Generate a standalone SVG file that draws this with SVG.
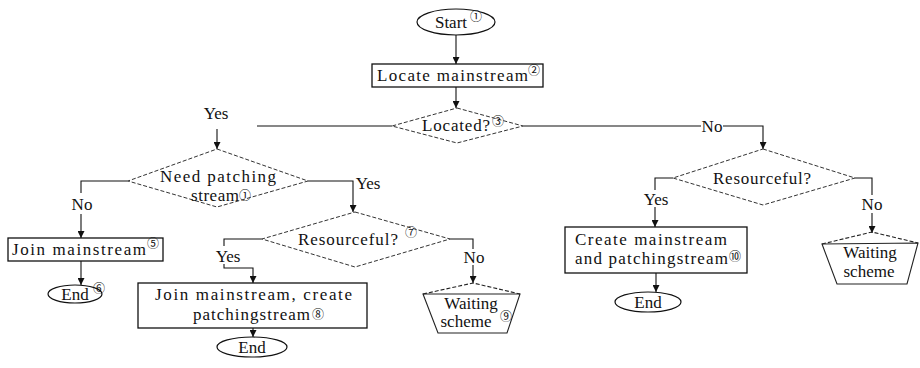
<svg xmlns="http://www.w3.org/2000/svg" width="920" height="368" viewBox="0 0 920 368" font-family="'Liberation Serif', 'Times New Roman', serif">
  <style>
    .t { font-family: 'Liberation Serif', 'Times New Roman', serif; font-size: 17px; fill: #111; }
    .n { font-family: 'Noto Sans CJK SC', 'DejaVu Sans', sans-serif; font-size: 12px; fill: #111; }
    .box { fill: #fff; stroke: #111; stroke-width: 1.3; }
    .oval { fill: #fff; stroke: #111; stroke-width: 1.2; }
    .dec { fill: #fff; stroke: #333; stroke-width: 1; stroke-dasharray: 4 2; }
    .pent { fill: #fff; stroke: #222; stroke-width: 1.1; }
    .pent-top { fill: none; stroke: #222; stroke-width: 1.1; stroke-dasharray: 4 2; }
    .ln { fill: none; stroke: #111; stroke-width: 1.1; }
    .ar { fill: none; stroke: #111; stroke-width: 1.1; marker-end: url(#head); }
  </style>
  <defs>
    <marker id="head" viewBox="0 0 10 10" refX="10" refY="5" markerWidth="7" markerHeight="7" markerUnits="userSpaceOnUse" orient="auto">
      <path d="M0,0 L10,5 L0,10 z" fill="#111"/>
    </marker>
  </defs>
  <rect width="920" height="368" fill="#fff"/>

  <!-- connectors -->
  <g id="connectors">
    <line class="ar" x1="456" y1="35" x2="456" y2="64"/>
    <line class="ar" x1="456" y1="87" x2="456" y2="108"/>
    <!-- Located? : Yes branch -->
    <polyline class="ln" points="392,126 257,126"/>
    <line class="ar" x1="217" y1="129" x2="217" y2="149"/>
    <!-- Located? : No branch -->
    <polyline class="ln" points="523,126 701,126"/>
    <polyline class="ar" points="723,126 763,126 763,149"/>
    <!-- Need patching stream : No -->
    <polyline class="ln" points="128,181 81,181 81,193"/>
    <line class="ar" x1="81" y1="214" x2="81" y2="238"/>
    <!-- Need patching stream : Yes -->
    <polyline class="ar" points="308,181 353,181 353,212"/>
    <!-- Resourceful? (7) : Yes -->
    <polyline class="ln" points="262,239 224,239 224,246"/>
    <polyline class="ar" points="224,264 224,268 253,268 253,283"/>
    <!-- Resourceful? (7) : No -->
    <polyline class="ln" points="450,239 473,239 473,249"/>
    <line class="ar" x1="473" y1="265" x2="473" y2="283"/>
    <line class="ar" x1="253" y1="328" x2="253" y2="337"/>
    <line class="ar" x1="81" y1="261" x2="81" y2="285"/>
    <!-- right Resourceful? : Yes -->
    <polyline class="ln" points="673,178 655,178 655,190"/>
    <line class="ar" x1="655" y1="207" x2="655" y2="227"/>
    <!-- right Resourceful? : No -->
    <polyline class="ln" points="855,178 872,178 872,195"/>
    <line class="ar" x1="872" y1="213" x2="872" y2="233"/>
    <line class="ar" x1="656" y1="273" x2="656" y2="292"/>
  </g>

  <!-- edge labels -->
  <g id="labels">
    <text class="t" x="216" y="119" text-anchor="middle">Yes</text>
    <text class="t" x="712" y="132" text-anchor="middle">No</text>
    <text class="t" x="82" y="210" text-anchor="middle">No</text>
    <text class="t" x="368" y="189" text-anchor="middle">Yes</text>
    <text class="t" x="228" y="262" text-anchor="middle">Yes</text>
    <text class="t" x="474" y="263" text-anchor="middle">No</text>
    <text class="t" x="656" y="205" text-anchor="middle">Yes</text>
    <text class="t" x="872" y="210" text-anchor="middle">No</text>
  </g>

  <g id="start">
    <ellipse class="oval" cx="456" cy="22" rx="39" ry="13"/>
    <text class="t" x="451" y="28" text-anchor="middle">Start</text>
    <text class="n" x="470" y="21">①</text>
  </g>

  <g id="locate">
    <rect class="box" x="372" y="64" width="171" height="23"/>
    <text class="t" x="377" y="81" textLength="151" lengthAdjust="spacing">Locate mainstream</text>
    <text class="n" x="528" y="75">②</text>
  </g>

  <g id="located">
    <polygon class="dec" points="457,108 523,126 457,143 392,126"/>
    <text class="t" x="422" y="131" textLength="68" lengthAdjust="spacing">Located?</text>
    <text class="n" x="492" y="126">③</text>
  </g>

  <g id="need-patching">
    <polygon class="dec" points="217,149 308,181 217,207 128,181"/>
    <text class="t" x="160" y="182" textLength="116" lengthAdjust="spacing">Need patching</text>
    <text class="t" x="191" y="201" textLength="48" lengthAdjust="spacing">stream</text>
    <text class="n" x="239" y="200">①</text>
  </g>

  <g id="join-main">
    <rect class="box" x="8" y="238" width="155" height="23"/>
    <text class="t" x="12" y="255" textLength="134" lengthAdjust="spacing">Join mainstream</text>
    <text class="n" x="147" y="248">⑤</text>
  </g>

  <g id="end-1">
    <ellipse class="oval" cx="75" cy="294" rx="27" ry="9"/>
    <text class="t" x="75" y="300" text-anchor="middle">End</text>
    <text class="n" x="93" y="293">⑥</text>
  </g>

  <g id="resourceful-1">
    <polygon class="dec" points="355,212 450,239 355,267 262,239"/>
    <text class="t" x="298" y="245" textLength="100" lengthAdjust="spacing">Resourceful?</text>
    <text class="n" x="405" y="237">⑦</text>
  </g>

  <g id="join-create">
    <rect class="box" x="138" y="283" width="229" height="45"/>
    <text class="t" x="155" y="300" textLength="197" lengthAdjust="spacing">Join mainstream, create</text>
    <text class="t" x="193" y="320" textLength="117" lengthAdjust="spacing">patchingstream</text>
    <text class="n" x="312" y="319">⑧</text>
  </g>

  <g id="end-2">
    <ellipse class="oval" cx="252" cy="347" rx="35" ry="10"/>
    <text class="t" x="252" y="353" text-anchor="middle">End</text>
  </g>

  <g id="waiting-1">
    <polygon class="pent" points="423,294 438,333 507,333 520,294"/>
    <polyline class="pent-top" points="423,294 473,283 520,294"/>
    <text class="t" x="471" y="309" text-anchor="middle">Waiting</text>
    <text class="t" x="466" y="327" text-anchor="middle">scheme</text>
    <text class="n" x="500" y="321">⑨</text>
  </g>

  <g id="resourceful-2">
    <polygon class="dec" points="763,149 855,178 763,205 673,178"/>
    <text class="t" x="713" y="184" textLength="98" lengthAdjust="spacing">Resourceful?</text>
  </g>

  <g id="create-both">
    <rect class="box" x="565" y="227" width="182" height="46"/>
    <text class="t" x="575" y="245" textLength="152" lengthAdjust="spacing">Create mainstream</text>
    <text class="t" x="575" y="264" textLength="153" lengthAdjust="spacing">and patchingstream</text>
    <text class="n" x="729" y="261">⑩</text>
  </g>

  <g id="end-3">
    <ellipse class="oval" cx="648" cy="302" rx="33" ry="10"/>
    <text class="t" x="648" y="308" text-anchor="middle">End</text>
  </g>

  <g id="waiting-2">
    <polygon class="pent" points="822,244 837,284 907,284 918,243"/>
    <polyline class="pent-top" points="822,244 872,232 918,243"/>
    <text class="t" x="870" y="258" text-anchor="middle">Waiting</text>
    <text class="t" x="869" y="277" text-anchor="middle">scheme</text>
  </g>
</svg>
